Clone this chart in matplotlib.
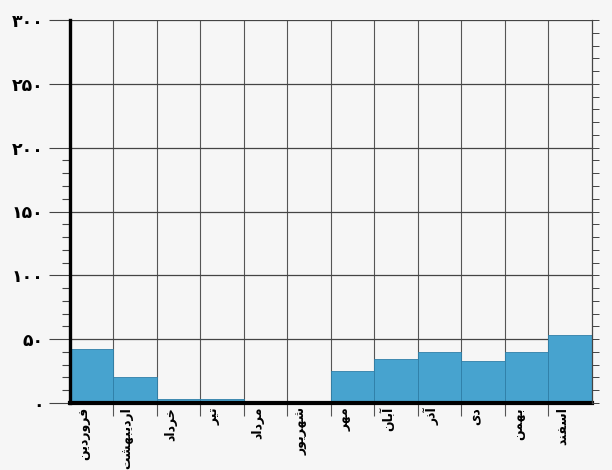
import numpy as np
import matplotlib
matplotlib.use('Agg')
import matplotlib.pyplot as plt
from matplotlib.ticker import FixedLocator, MultipleLocator

# monthly values
months = ['فروردین', 'اردیبهشت', 'خرداد', 'تیر', 'مرداد', 'شهریور',
          'مهر', 'آبان', 'آذر', 'دی', 'بهمن', 'اسفند']
values = [42, 20, 3, 3, 1, 0.5, 25, 34, 40, 33, 40, 53]
y_ticks = [0, 50, 100, 150, 200, 250, 300]

# matplotlib has no arabic shaping, so pick presentation forms by hand
# (isolated, final, initial, medial)
forms = {
    'ا': ('\uFE8D', '\uFE8E', None, None),
    'آ': ('\uFE81', '\uFE82', None, None),
    'ب': ('\uFE8F', '\uFE90', '\uFE91', '\uFE92'),
    'ت': ('\uFE95', '\uFE96', '\uFE97', '\uFE98'),
    'خ': ('\uFEA5', '\uFEA6', '\uFEA7', '\uFEA8'),
    'د': ('\uFEA9', '\uFEAA', None, None),
    'ذ': ('\uFEAB', '\uFEAC', None, None),
    'ر': ('\uFEAD', '\uFEAE', None, None),
    'ز': ('\uFEAF', '\uFEB0', None, None),
    'س': ('\uFEB1', '\uFEB2', '\uFEB3', '\uFEB4'),
    'ش': ('\uFEB5', '\uFEB6', '\uFEB7', '\uFEB8'),
    'ف': ('\uFED1', '\uFED2', '\uFED3', '\uFED4'),
    'م': ('\uFEE1', '\uFEE2', '\uFEE3', '\uFEE4'),
    'ن': ('\uFEE5', '\uFEE6', '\uFEE7', '\uFEE8'),
    'ه': ('\uFEE9', '\uFEEA', '\uFEEB', '\uFEEC'),
    'و': ('\uFEED', '\uFEEE', None, None),
    '\u06CC': ('\uFEEF', '\uFEF0', '\uFEF3', '\uFEF4'),
    '\u064A': ('\uFEEF', '\uFEF0', '\uFEF3', '\uFEF4'),
}


def shape(word):
    out = []
    for i, ch in enumerate(word):
        f = forms[ch]
        join_prev = i > 0 and forms[word[i-1]][2] is not None
        join_next = i + 1 < len(word) and f[2] is not None
        if join_prev and join_next:
            out.append(f[3])
        elif join_prev:
            out.append(f[1])
        elif join_next:
            out.append(f[2])
        else:
            out.append(f[0])
    return ''.join(reversed(out))


def fa_digits(n):
    return ''.join('۰۱۲۳۴۵۶۷۸۹'[int(c)] for c in str(n))


paper = '#f6f6f6'
fig = plt.figure(figsize=(6.12, 4.70), dpi=100, facecolor=paper)
ax = fig.add_axes([0.114, 0.143, 0.853, 0.814], facecolor=paper)

x = np.arange(len(months))
ax.bar(x, values, width=1.0, align='edge', color='#47a3cf',
       edgecolor='#2f7fa8', linewidth=0.6, zorder=3)

ax.set_xlim(0, len(months))
ax.set_ylim(0, 300)

# labels sit toward the left side of each bar
ax.set_xticks(x + 0.32)
ax.set_xticklabels([shape(m) for m in months], rotation=90,
                   fontsize=9, fontweight='bold', family='DejaVu Sans')
ax.xaxis.set_minor_locator(FixedLocator(np.arange(1, len(months))))
ax.tick_params(axis='x', which='major', length=0, pad=3)
ax.tick_params(axis='x', which='minor', length=9, width=0.8,
               color='#555555', direction='out')

ax.set_yticks(y_ticks)
ax.set_yticklabels([fa_digits(v) for v in y_ticks], fontsize=12.5,
                   fontweight='bold', family='DejaVu Sans')
minor_left = [v for v in range(10, 200, 10) if v % 50 != 0]
ax.yaxis.set_minor_locator(FixedLocator(minor_left))
ax.tick_params(axis='y', which='major', length=15, width=0.8,
               color='#444444', pad=4)
ax.tick_params(axis='y', which='minor', length=6, width=0.8,
               color='#444444')

ax.grid(True, axis='y', which='major', color='#444444', linewidth=0.9)
ax.grid(True, axis='x', which='minor', color='#555555', linewidth=0.8)
ax.set_axisbelow(True)

ax.spines['top'].set_visible(False)
ax.spines['right'].set_visible(False)
ax.spines['left'].set_linewidth(2.4)
ax.spines['bottom'].set_linewidth(3.0)
ax.spines['left'].set_zorder(5)
ax.spines['bottom'].set_zorder(5)

# thin right scale with small ticks every 10
ax2 = ax.twinx()
ax2.set_ylim(0, 300)
ax2.yaxis.set_major_locator(MultipleLocator(50))
ax2.yaxis.set_minor_locator(MultipleLocator(10))
ax2.tick_params(axis='y', which='both', length=5, width=0.7,
                color='#444444', labelright=False)
for s in ['top', 'left', 'bottom']:
    ax2.spines[s].set_visible(False)
ax2.spines['right'].set_linewidth(0.9)
ax2.spines['right'].set_color('#444444')

plt.savefig('out.png', dpi=100, facecolor=paper)
